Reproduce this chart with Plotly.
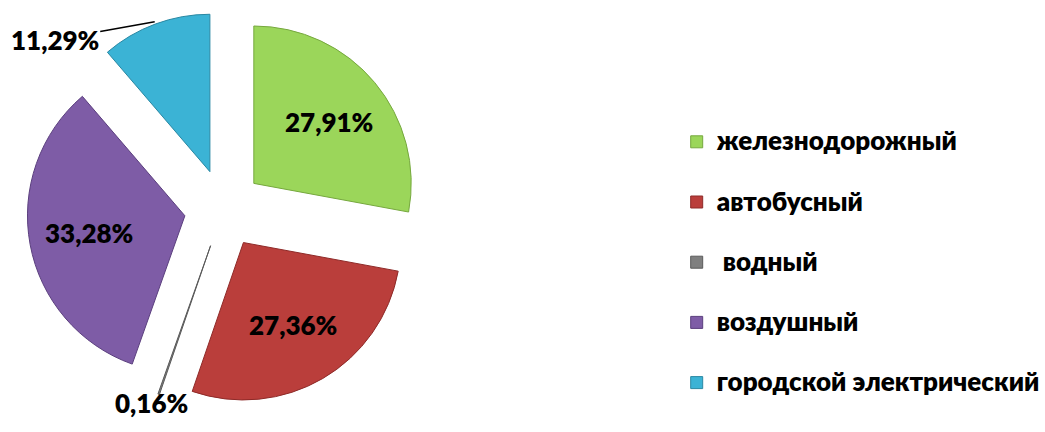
import math
import plotly.graph_objects as go

# Share of passenger transport by mode, %
categories = ["железнодорожный", "автобусный", " водный", "воздушный", "городской электрический"]
shares = [27.91, 27.36, 0.16, 33.28, 11.29]
colors = ["#9BD65A", "#BA3E3B", "#7F7F7F", "#7E5CA6", "#3BB3D5"]
edge_colors = ["#76A83E", "#8E2A28", "#5A5A5A", "#5B3F7E", "#2A88A3"]

W, H = 1045, 432
FONT = "Lato, 'Open Sans', sans-serif"
PULL = 0.25
DOMAIN_X = [24 / W, 424 / W]
DOMAIN_Y = [20 / H, 420 / H]


def fmt(v):
    return f"{v:.2f}".replace(".", ",") + "%"


# Narrow slices (below 12 %) get their label placed beside the pie
inside = [v >= 12 for v in shares]

# legend rows: larger text, plus an empty second line for the wide row spacing
legend_labels = [f'<span style="font-size:26px">{c}</span><br> ' for c in categories]

fig = go.Figure(
    go.Pie(
        labels=legend_labels,
        values=shares,
        textinfo="none",
        sort=False,
        direction="clockwise",
        rotation=0,
        pull=[PULL] * len(shares),
        marker=dict(colors=colors, line=dict(color=edge_colors, width=1)),
        domain=dict(x=DOMAIN_X, y=DOMAIN_Y),
        hoverinfo="skip",
    )
)

# pie geometry (pixels) derived from the domain and pull, as plotly lays it out
cx = (DOMAIN_X[0] + DOMAIN_X[1]) / 2 * W
cy = (1 - (DOMAIN_Y[0] + DOMAIN_Y[1]) / 2) * H
side = min((DOMAIN_X[1] - DOMAIN_X[0]) * W, (DOMAIN_Y[1] - DOMAIN_Y[0]) * H)
radius = side / 2 / (1 + PULL)
label_r = radius * (PULL + 0.61)

label_font = dict(family=FONT, size=26, color="black", weight=800)
ann = []
total = sum(shares)
acc = 0.0
for i, v in enumerate(shares):
    mid = (acc + v / 2) / total * 2 * math.pi   # clockwise from 12 o'clock
    acc += v
    if inside[i]:
        px = cx + label_r * math.sin(mid)
        py = cy - label_r * math.cos(mid)
        ann.append(dict(x=px / W, y=1 - py / H, xref="paper", yref="paper",
                        xanchor="center", yanchor="middle",
                        text=fmt(v), showarrow=False, font=label_font))
    elif categories[i] == "городской электрический":
        # label to the upper left with a leader line to the slice
        ann.append(dict(x=155 / W, y=1 - 22 / H, xref="paper", yref="paper",
                        text=fmt(v), showarrow=True, arrowhead=0, arrowwidth=1.5,
                        arrowcolor="black", ax=-100, ay=18, font=label_font))
    else:
        ann.append(dict(x=152 / W, y=1 - 410 / H, xref="paper", yref="paper",
                        xanchor="center", yanchor="middle",
                        text=fmt(v), showarrow=False, font=label_font))

fig.update_layout(
    width=W,
    height=H,
    margin=dict(l=0, r=0, t=0, b=0),
    paper_bgcolor="white",
    plot_bgcolor="white",
    separators=", ",
    annotations=ann,
    showlegend=True,
    legend=dict(
        x=678 / W,
        y=1 - 123 / H,
        xanchor="left",
        yanchor="top",
        valign="top",
        font=dict(family=FONT, size=22, color="black", weight=800),
        bgcolor="rgba(0,0,0,0)",
    ),
)

fig.write_html("out.html")
